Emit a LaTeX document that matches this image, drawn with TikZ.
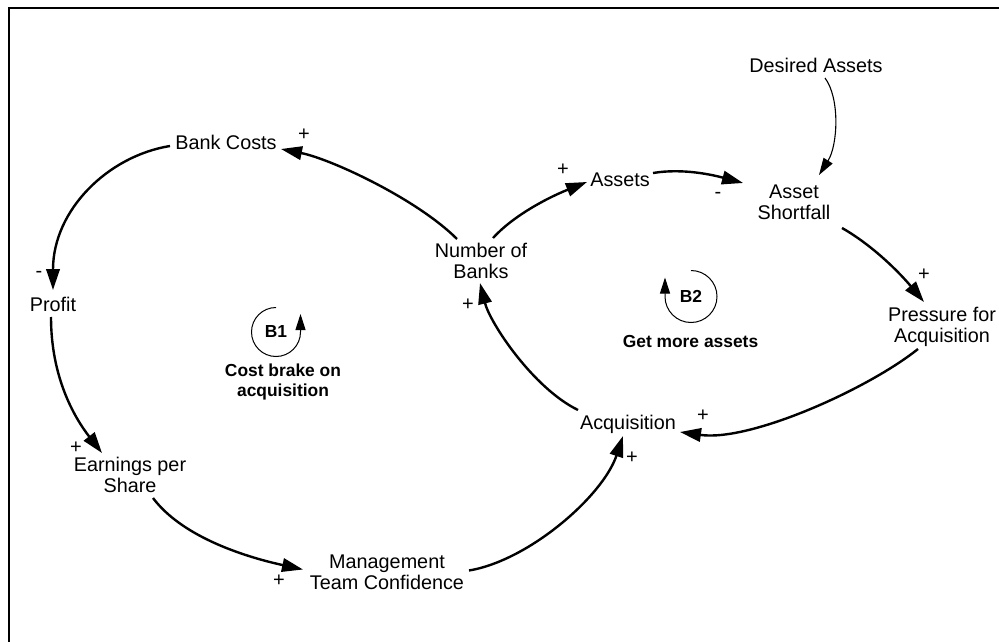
\documentclass[tikz,border=0pt]{standalone}
\usepackage{fontspec}
\setmainfont{Liberation Sans}
\usetikzlibrary{arrows.meta}

\begin{document}
\begin{tikzpicture}[x=1pt,y=-1pt,
  var/.style={inner sep=0pt, align=center, font=\fontsize{19.8}{21.5}\selectfont},
  loopname/.style={inner sep=0pt, align=center, font=\bfseries\fontsize{17.4}{20}\selectfont},
  sign/.style={inner sep=0pt, font=\fontsize{20}{20}\selectfont},
  link/.style={line width=2.4pt, -{Triangle[length=21pt,width=13.5pt]}},
  thinlink/.style={line width=1.1pt, -{Triangle[length=17pt,width=10.5pt]}},
  loopring/.style={line width=1pt, -{Triangle[length=16pt,width=10pt]}},
]
\useasboundingbox (0,0) rectangle (999,642);
\clip (0,0) rectangle (999,642);
\fill[white] (0,0) rectangle (999,642);
% outer frame, running off the right and bottom edges
\draw[line width=1.6pt] (9,8) rectangle (1020,660);

% variables
\node[var] (bc)  at (226,142)   {Bank Costs};
\node[var] (pr)  at (53,304)    {Profit};
\node[var] (nb)  at (481,261)   {Number of\\Banks};
\node[var] (as)  at (620,179.5) {Assets};
\node[var] (da)  at (816,65.5)  {Desired Assets};
\node[var] (sf)  at (794,202.5) {Asset\\Shortfall};
\node[var] (pa)  at (942,327)   {Pressure for\\Acquisition};
\node[var] (ac)  at (628,424)   {Acquisition};
\node[var] (eps) at (130,475)   {Earnings per\\Share};
\node[var] (mtc) at (387,572.5) {Management\\Team Confidence};

% causal links
\draw[link] ([shift={(-24,-22)}]nb.center) .. controls +(-40,-40) and +(50,10) .. ([shift={(55,7)}]bc.center);
\draw[link] ([shift={(-56,4)}]bc.center) .. controls +(-62,10) and +(0,-80) .. ([shift={(0,-14)}]pr.center);
\draw[link] ([shift={(-2,13)}]pr.center) .. controls +(0,60) and +(-28,-36) .. ([shift={(-28,-22)}]eps.center);
\draw[link] ([shift={(23,23)}]eps.center) .. controls +(30,40) and +(-55,-12) .. ([shift={(-84,-3)}]mtc.center);
\draw[link] ([shift={(82,-2)}]mtc.center) .. controls +(60,-10) and +(-20,60) .. ([shift={(-5,12)}]ac.center);
\draw[link] ([shift={(-50,-14)}]ac.center) .. controls +(-45,-22) and +(10,40) .. ([shift={(-1,22)}]nb.center);
\draw[link] ([shift={(12,-23)}]nb.center) .. controls +(20,-22) and +(-40,16) .. ([shift={(-33,2.5)}]as.center);
\draw[link] ([shift={(33,-6.5)}]as.center) .. controls +(30,-5) and +(-30,-8) .. ([shift={(-51,-19.5)}]sf.center);
\draw[thinlink] ([shift={(9,12.5)}]da.center) .. controls +(15,20) and +(19,-30) .. ([shift={(25,-27.5)}]sf.center);
\draw[link] ([shift={(48,25.5)}]sf.center) .. controls +(30,17) and +(-25,-30) .. ([shift={(-18,-25)}]pa.center);
\draw[link] ([shift={(-24,22)}]pa.center) .. controls +(-50,40) and +(70,10) .. ([shift={(52,8)}]ac.center);

% link polarities
\node[sign] (p1)  at (304,135)   {+};
\node[sign] (p2)  at (39,274)    {-};
\node[sign] (p3)  at (76,448)    {+};
\node[sign] (p4)  at (279,581)   {+};
\node[sign] (p5)  at (632,458)   {+};
\node[sign] (p6)  at (468,305)   {+};
\node[sign] (p7)  at (563,170)   {+};
\node[sign] (p8)  at (718,195.5) {-};
\node[sign] (p9)  at (924,275)   {+};
\node[sign] (p10) at (703,416)   {+};

% loop markers
\node[loopname] (b1)  at (276,332)   {B1};
\node[loopname] (b1t) at (283,381.5) {Cost brake on\\acquisition};
\draw[loopring] (b1.center) ++(0,-24.5) arc[start angle=-90, end angle=-360, radius=24.5] -- ++(0,-18);

\node[loopname] (b2)  at (691,296.5) {B2};
\node[loopname] (b2t) at (690.5,342) {Get more assets};
\draw[loopring] (b2.center) ++(0,-26) arc[start angle=-90, end angle=180, radius=26] -- ++(0,-19);
\end{tikzpicture}
\end{document}
